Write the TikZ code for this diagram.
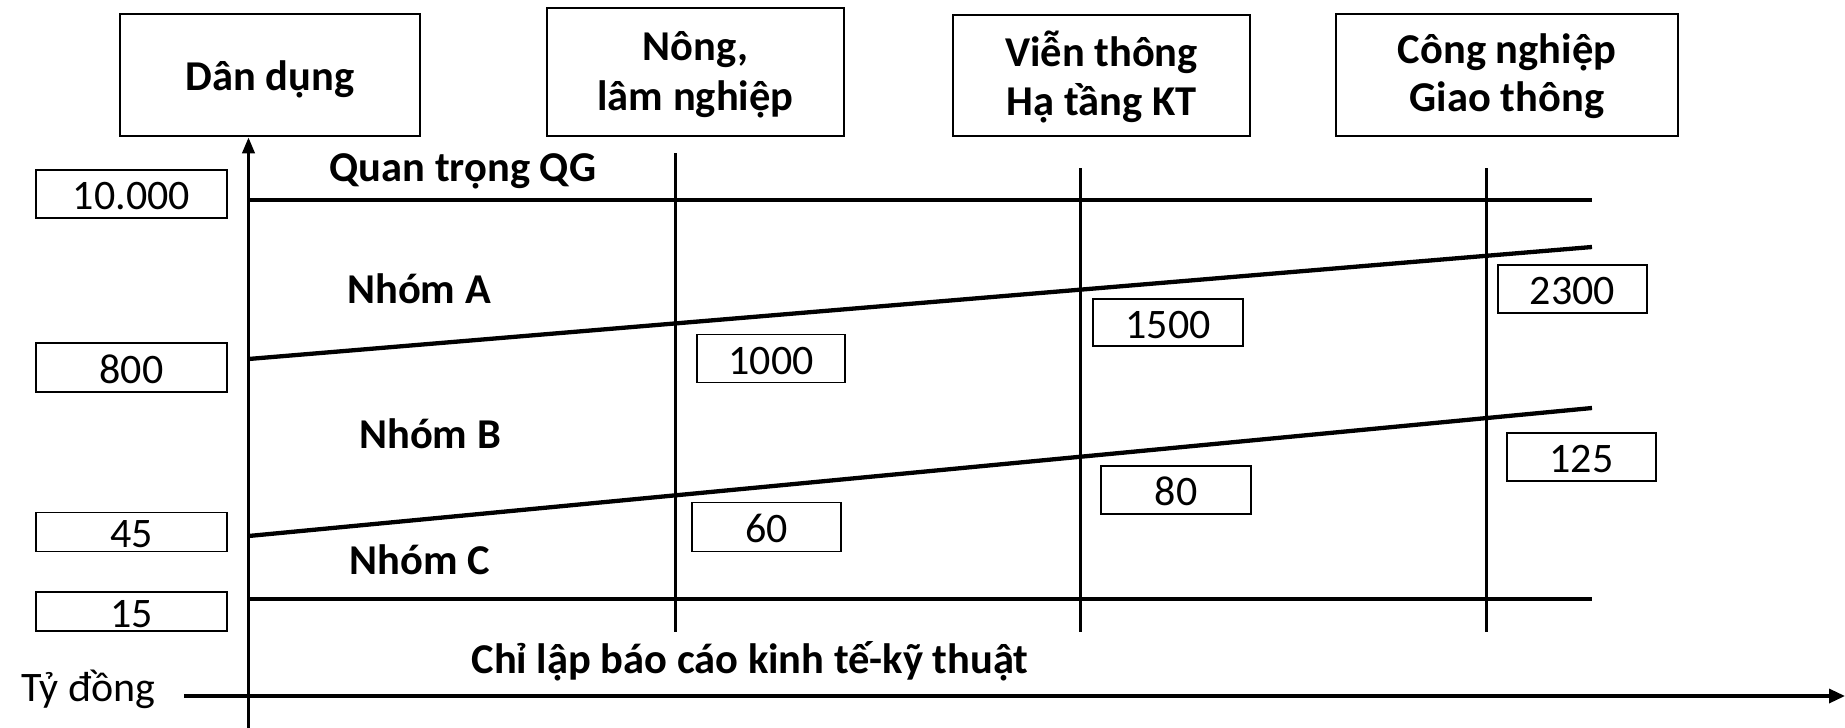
\documentclass[tikz,border=0pt]{standalone}
\usepackage{fontspec}
\setmainfont{Carlito}
\usetikzlibrary{arrows.meta}
\tikzset{
  headbox/.style={draw, line width=2.5pt, inner sep=0pt},
  headtxt/.style={anchor=base, inner sep=0pt, font=\fontsize{42.5}{50}\selectfont\bfseries},
  valbox/.style={draw, line width=1.6pt, inner sep=0pt, text height=31pt, text depth=0pt, font=\fontsize{42}{50}\selectfont},
  lbl/.style={inner sep=0pt, font=\fontsize{42.5}{50}\selectfont\bfseries},
  thickline/.style={line width=4.3pt},
  vline/.style={line width=3pt},
  axis/.style={line width=3.3pt}
}
\begin{document}
\begin{tikzpicture}[x=1pt,y=-1pt]
\useasboundingbox (0,0) rectangle (1845,728);
% header boxes
\node[headbox, minimum width=300pt, minimum height=122pt] (dan) at (270,75) {};
\node[headbox, minimum width=297pt, minimum height=128pt] (nong) at (695.5,72) {};
\node[headbox, minimum width=297pt, minimum height=121pt] (vien) at (1101.5,75.5) {};
\node[headbox, minimum width=342pt, minimum height=122pt] (cong) at (1507,75) {};
\node[headtxt] (danT) at (270,90) {Dân dụng};
\node[headtxt] (nongT1) at (695.5,60) {Nông,};
\node[headtxt] (nongT2) at (695.5,110) {lâm nghiệp};
\node[headtxt] (vienT1) at (1101.5,66.7) {Viễn thông};
\node[headtxt] (vienT2) at (1101.5,115) {Hạ tầng KT};
\node[headtxt] (congT1) at (1507,63.3) {Công nghiệp};
\node[headtxt] (congT2) at (1507,111.7) {Giao thông};
% axes
\coordinate (vbot) at (248.5,728);
\coordinate (hstart) at (184,696);
\coordinate (hend) at (1845,696);
\draw[axis, line width=3.6pt, -{Triangle[length=16pt,width=12pt]}] (vbot) -- (dan.south -| vbot);
\draw[axis, -{Triangle[length=16pt,width=14pt]}] (hstart) -- (hend);
% horizontal group lines
\coordinate (qgL) at (248.5,200); \coordinate (qgR) at (1592,200);
\coordinate (aL) at (248.5,359); \coordinate (aR) at (1592,247);
\coordinate (bL) at (248.5,536); \coordinate (bR) at (1592,408);
\coordinate (cL) at (248.5,599); \coordinate (cR) at (1592,599);
\draw[thickline] (qgL) -- (qgR);
\draw[thickline] (aL) -- (aR);
\draw[thickline] (bL) -- (bR);
\draw[thickline] (cL) -- (cR);
% vertical separators
\coordinate (n1) at (675,153); \coordinate (n2) at (675,632);
\coordinate (v1) at (1080,168); \coordinate (v2) at (1080,632);
\coordinate (c1) at (1486,168); \coordinate (c2) at (1486,632);
\draw[vline] (n1) -- (n2);
\draw[vline] (v1) -- (v2);
\draw[vline] (c1) -- (c2);
% value boxes on left
\node[valbox, minimum width=191pt, minimum height=48pt] (v10000) at (131.5,194) {10.000};
\node[valbox, minimum width=191pt, minimum height=49pt] (v800) at (131.5,367.5) {800};
\node[valbox, minimum width=191pt, minimum height=39pt] (v45) at (131.5,532) {45};
\node[valbox, minimum width=191pt, minimum height=39pt] (v15) at (131.5,611.5) {15};
% value boxes inside
\node[valbox, minimum width=148pt, minimum height=48pt] (v1000) at (771,358.5) {1000};
\node[valbox, minimum width=149pt, minimum height=49pt] (v60) at (766.5,527) {60};
\node[valbox, minimum width=150pt, minimum height=47pt] (v1500) at (1168,322.5) {1500};
\node[valbox, minimum width=150pt, minimum height=48pt] (v80) at (1176,490) {80};
\node[valbox, minimum width=149pt, minimum height=48pt] (v2300) at (1572.5,289) {2300};
\node[valbox, minimum width=149pt, minimum height=48pt] (v125) at (1581.5,457) {125};
% labels
\node[lbl, anchor=base] (qg) at (463,181.7) {Quan trọng QG};
\node[lbl] (na) at (419,289) {Nhóm A};
\node[lbl] (nb) at (430,434) {Nhóm B};
\node[lbl] (nc) at (420,560) {Nhóm C};
\node[lbl] (bc) at (750,661) {Chỉ lập báo cáo kinh tế-kỹ thuật};
\node[anchor=base, inner sep=0pt, font=\fontsize{42}{50}\selectfont] (ty) at (88.3,701.7) {Tỷ đồng};
\end{tikzpicture}
\end{document}
